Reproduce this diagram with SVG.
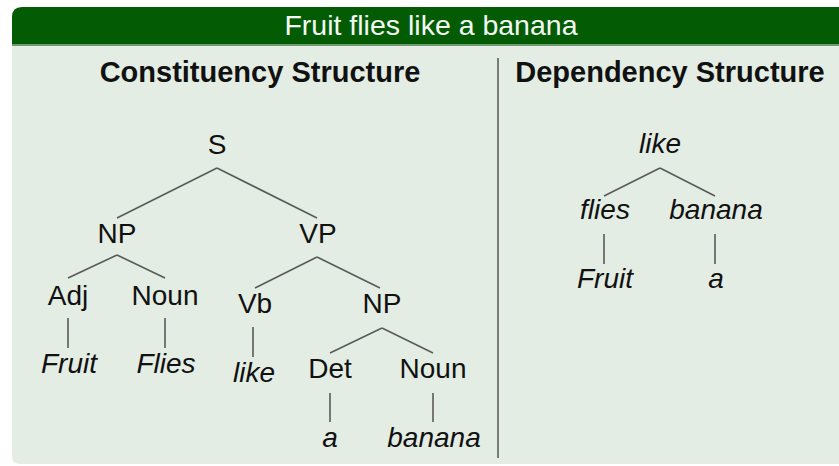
<svg xmlns="http://www.w3.org/2000/svg" width="839" height="466" viewBox="0 0 839 466">
<style>
  .lbl { font-family: "Liberation Sans", Arial, sans-serif; font-size: 28px; fill: #111; text-anchor: middle; }
  .it { font-style: italic; }
  .head { font-family: "Liberation Sans", Arial, sans-serif; font-size: 29px; font-weight: bold; fill: #111; text-anchor: middle; }
  .title { font-family: "Liberation Sans", Arial, sans-serif; font-size: 28.5px; fill: #f4f8f4; text-anchor: middle; }
  .edge { stroke: #5a5a5a; stroke-width: 1.6; fill: none; }
</style>
<rect x="0" y="0" width="839" height="466" fill="#ffffff"/>
<g id="frame">
  <path d="M12,456 L12,44 L845,44 L845,464 L20,464 Q12,464 12,456 Z" fill="#e3ede3"/>
  <path d="M12,44 L12,17 Q12,7 22,7 L845,7 L845,44 Z" fill="#035c03"/>
  <line x1="12" y1="45" x2="845" y2="45" stroke="#6f9a6f" stroke-width="2"/>
  <text class="title" x="431" y="35">Fruit flies like a banana</text>
  <line x1="498" y1="58" x2="498" y2="458" stroke="#555" stroke-width="1.5"/>
  <text class="head" x="260" y="82">Constituency Structure</text>
  <text class="head" x="670" y="82">Dependency Structure</text>
</g>
<g id="connectors">
  <path class="edge" d="M217,168 L117,218 M217,168 L317,218"/>
  <path class="edge" d="M117,255 L68,278 M117,255 L165,278"/>
  <path class="edge" d="M317,257 L255,288 M317,257 L380,288"/>
  <path class="edge" d="M68,318 L68,348 M165,318 L165,348"/>
  <path class="edge" d="M253,327 L253,357"/>
  <path class="edge" d="M382,328 L330,353 M382,328 L433,353"/>
  <path class="edge" d="M330,393 L330,422 M433,393 L433,422"/>
  <path class="edge" d="M660,168 L604,196 M660,168 L715,196"/>
  <path class="edge" d="M604,234 L604,264 M715,234 L715,264"/>
</g>
<g id="n-S"><text class="lbl" x="217" y="154">S</text></g>
<g id="n-NP1"><text class="lbl" x="117" y="243">NP</text></g>
<g id="n-VP"><text class="lbl" x="318" y="243">VP</text></g>
<g id="n-Adj"><text class="lbl" x="68" y="305">Adj</text></g>
<g id="n-Noun1"><text class="lbl" x="165" y="305">Noun</text></g>
<g id="n-Vb"><text class="lbl" x="255" y="313">Vb</text></g>
<g id="n-NP2"><text class="lbl" x="382" y="313">NP</text></g>
<g id="n-Fruit"><text class="lbl it" x="69" y="373">Fruit</text></g>
<g id="n-Flies"><text class="lbl it" x="166" y="373">Flies</text></g>
<g id="n-like"><text class="lbl it" x="254" y="382">like</text></g>
<g id="n-Det"><text class="lbl" x="330" y="378">Det</text></g>
<g id="n-Noun2"><text class="lbl" x="433" y="378">Noun</text></g>
<g id="n-a"><text class="lbl it" x="330" y="447">a</text></g>
<g id="n-banana"><text class="lbl it" x="434" y="447">banana</text></g>
<g id="d-like"><text class="lbl it" x="660" y="153">like</text></g>
<g id="d-flies"><text class="lbl it" x="605" y="219">flies</text></g>
<g id="d-banana"><text class="lbl it" x="716" y="219">banana</text></g>
<g id="d-Fruit"><text class="lbl it" x="605" y="288">Fruit</text></g>
<g id="d-a"><text class="lbl it" x="716" y="288">a</text></g>
</svg>
